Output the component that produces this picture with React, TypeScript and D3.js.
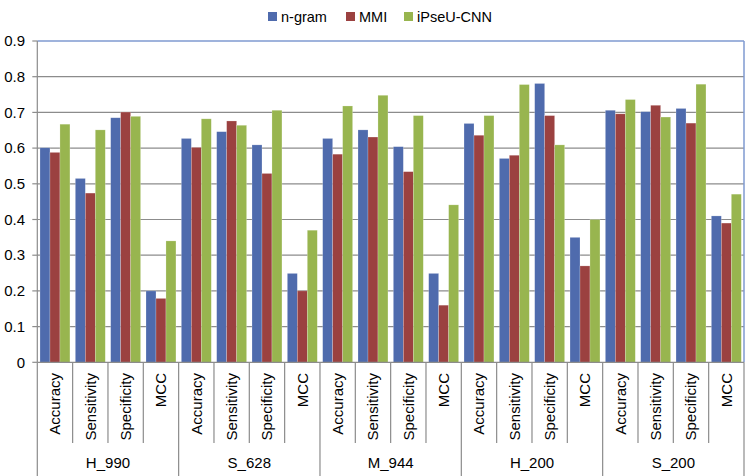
import React from "react";
import * as d3 from "d3";

const datasets = ["H_990", "S_628", "M_944", "H_200", "S_200"];
const metrics = ["Accuracy", "Sensitivity", "Specificity", "MCC"];
const seriesNames = ["n-gram", "MMI", "iPseU-CNN"];
const ngram = [0.601, 0.515, 0.685, 0.2, 0.627, 0.646, 0.609, 0.249, 0.627, 0.651, 0.604, 0.249, 0.669, 0.571, 0.781, 0.35, 0.706, 0.702, 0.711, 0.41];
const mmi = [0.588, 0.474, 0.701, 0.179, 0.602, 0.676, 0.529, 0.2, 0.583, 0.631, 0.534, 0.16, 0.636, 0.58, 0.691, 0.27, 0.696, 0.72, 0.67, 0.39];
const ipseu = [0.667, 0.651, 0.689, 0.34, 0.682, 0.664, 0.706, 0.37, 0.718, 0.748, 0.691, 0.441, 0.691, 0.778, 0.609, 0.4, 0.736, 0.687, 0.779, 0.471];
const yTicks = [0, 0.1, 0.2, 0.3, 0.4, 0.5, 0.6, 0.7, 0.8, 0.9];
const colors = ["#4F6BAD", "#9B4140", "#98B54F"];

export default function App() {
  const W = 747, H = 476;
  const left = 37.3, right = 744, top = 41, bottom = 362.3;
  const font = "'Liberation Sans', Arial, sans-serif";
  const series = [ngram, mmi, ipseu];
  const cats = d3.range(datasets.length * metrics.length);
  const x = d3.scaleBand<number>().domain(cats).range([left, right]).paddingInner(0).paddingOuter(0);
  const inner = d3.scaleBand<number>().domain([0, 1, 2]).range([0, x.bandwidth()]).paddingOuter(0.27).paddingInner(0);
  const y = d3.scaleLinear().domain([0, 0.9]).range([bottom, top]);
  const bw = x.bandwidth();
  const groupW = bw * metrics.length;

  return (
    <svg width={W} height={H} style={{ position: "absolute", left: 0, top: 0, background: "#fff" }}>
      {yTicks.slice(1, -1).map((t) => (
        <line key={t} x1={left} x2={right} y1={y(t)} y2={y(t)} stroke="#8c8c8c" strokeWidth={1.2} />
      ))}
      <line x1={left} x2={right} y1={y(0.9)} y2={y(0.9)} stroke="#7f9ad0" strokeWidth={1.5} />
      <line x1={right} x2={right} y1={y(0.9)} y2={bottom} stroke="#7f9ad0" strokeWidth={1.5} />
      {cats.map((c) =>
        series.map((s, si) => (
          <rect
            key={`${c}-${si}`}
            x={(x(c) as number) + (inner(si) as number)}
            y={y(s[c])}
            width={inner.bandwidth()}
            height={bottom - y(s[c])}
            fill={colors[si]}
            stroke="#ffffff"
            strokeOpacity={0.35}
            strokeWidth={0.6}
          />
        ))
      )}
      <line x1={left} x2={left} y1={top} y2={bottom} stroke="#8c8c8c" strokeWidth={1.2} />
      {yTicks.map((t) => (
        <g key={t}>
          <line x1={left - 5} x2={left} y1={y(t)} y2={y(t)} stroke="#8c8c8c" strokeWidth={1.2} />
          <text x={25} y={y(t)} dy="0.35em" textAnchor="end" fontFamily={font} fontSize={15} fill="#000">
            {t === 0 ? "0" : d3.format(".1f")(t)}
          </text>
        </g>
      ))}
      <line x1={left} x2={right} y1={bottom} y2={bottom} stroke="#8c8c8c" strokeWidth={1.2} />
      {d3.range(cats.length + 1).map((i) => {
        const xx = left + i * bw;
        const isGroup = i % metrics.length === 0;
        return (
          <line key={i} x1={xx} x2={xx} y1={bottom} y2={isGroup ? H : 443} stroke="#8c8c8c" strokeWidth={1.2} />
        );
      })}
      {cats.map((c) => (
        <text
          key={`m${c}`}
          transform={`translate(${(x(c) as number) + bw / 2},373) rotate(-90)`}
          dy="0.35em"
          textAnchor="end"
          fontFamily={font}
          fontSize={15}
          fill="#000"
        >
          {metrics[c % metrics.length]}
        </text>
      ))}
      {datasets.map((d, i) => (
        <text key={d} x={left + i * groupW + groupW / 2} y={468} textAnchor="middle" fontFamily={font} fontSize={15} fill="#000">
          {d}
        </text>
      ))}
      {seriesNames.map((n, i) => {
        const lx = [268, 346, 404][i];
        return (
          <g key={n}>
            <rect x={lx} y={12} width={9} height={9} fill={colors[i]} />
            <text x={lx + 13} y={21.5} fontFamily={font} fontSize={14.5} fill="#000">
              {n}
            </text>
          </g>
        );
      })}
    </svg>
  );
}
